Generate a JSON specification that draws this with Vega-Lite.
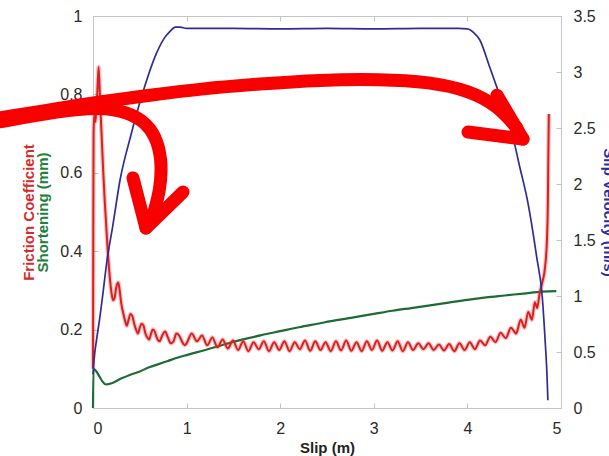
{
  "$schema": "https://vega.github.io/schema/vega-lite/v6.json",
  "width": 468,
  "height": 392,
  "autosize": {"type": "none"},
  "padding": {"left": 93, "top": 16, "right": 48, "bottom": 48},
  "background": "white",
  "config": {
    "view": {"stroke": "#c4c4c4", "strokeWidth": 1},
    "axis": {
      "labelFont": "Liberation Sans",
      "labelFontSize": 16,
      "labelColor": "#2a2a2a",
      "titleFont": "Liberation Sans",
      "titleFontSize": 15,
      "titleFontWeight": "bold",
      "domainColor": "#c4c4c4",
      "tickColor": "#c4c4c4",
      "tickSize": -5,
      "grid": false
    }
  },
  "datasets": {
    "shortening": [
      {"slip": 0, "shortening": 0}, {"slip": 0.005, "shortening": 0.1}, {"slip": 0.03, "shortening": 0.095},
      {"slip": 0.07, "shortening": 0.08}, {"slip": 0.1, "shortening": 0.068}, {"slip": 0.14, "shortening": 0.06},
      {"slip": 0.2, "shortening": 0.063}, {"slip": 0.3, "shortening": 0.075}, {"slip": 0.4, "shortening": 0.085},
      {"slip": 0.5, "shortening": 0.093}, {"slip": 0.6, "shortening": 0.104}, {"slip": 0.7, "shortening": 0.112},
      {"slip": 0.8, "shortening": 0.12}, {"slip": 0.9, "shortening": 0.128}, {"slip": 1.0, "shortening": 0.135},
      {"slip": 1.2, "shortening": 0.148}, {"slip": 1.4, "shortening": 0.162}, {"slip": 1.6, "shortening": 0.175},
      {"slip": 1.8, "shortening": 0.186}, {"slip": 2.0, "shortening": 0.196}, {"slip": 2.2, "shortening": 0.206},
      {"slip": 2.4, "shortening": 0.215}, {"slip": 2.6, "shortening": 0.224}, {"slip": 2.8, "shortening": 0.232},
      {"slip": 3.0, "shortening": 0.24}, {"slip": 3.2, "shortening": 0.248}, {"slip": 3.4, "shortening": 0.255},
      {"slip": 3.6, "shortening": 0.262}, {"slip": 3.8, "shortening": 0.269}, {"slip": 4.0, "shortening": 0.276},
      {"slip": 4.2, "shortening": 0.282}, {"slip": 4.4, "shortening": 0.287}, {"slip": 4.6, "shortening": 0.292},
      {"slip": 4.8, "shortening": 0.297}, {"slip": 4.95, "shortening": 0.298}
    ],
    "friction": [
      {"slip": 0, "mu": 0.10}, {"slip": 0.003, "mu": 0.45}, {"slip": 0.006, "mu": 0.70}, {"slip": 0.015, "mu": 0.75},
      {"slip": 0.025, "mu": 0.73}, {"slip": 0.035, "mu": 0.76}, {"slip": 0.045, "mu": 0.80}, {"slip": 0.06, "mu": 0.87},
      {"slip": 0.07, "mu": 0.82}, {"slip": 0.08, "mu": 0.76}, {"slip": 0.095, "mu": 0.68}, {"slip": 0.11, "mu": 0.60},
      {"slip": 0.125, "mu": 0.53}, {"slip": 0.14, "mu": 0.47}, {"slip": 0.155, "mu": 0.41}, {"slip": 0.17, "mu": 0.36},
      {"slip": 0.185, "mu": 0.32}, {"slip": 0.2, "mu": 0.29}, {"slip": 0.215, "mu": 0.275}, {"slip": 0.23, "mu": 0.28},
      {"slip": 0.25, "mu": 0.31}, {"slip": 0.27, "mu": 0.32}, {"slip": 0.285, "mu": 0.30}, {"slip": 0.3, "mu": 0.27},
      {"slip": 0.32, "mu": 0.245}, {"slip": 0.34, "mu": 0.225}, {"slip": 0.36, "mu": 0.21}, {"slip": 0.38, "mu": 0.225},
      {"slip": 0.40, "mu": 0.24}, {"slip": 0.42, "mu": 0.235}, {"slip": 0.44, "mu": 0.215}, {"slip": 0.46, "mu": 0.20},
      {"slip": 0.48, "mu": 0.19}, {"slip": 0.50, "mu": 0.205}, {"slip": 0.52, "mu": 0.215}, {"slip": 0.54, "mu": 0.21},
      {"slip": 0.56, "mu": 0.19}, {"slip": 0.58, "mu": 0.18}, {"slip": 0.60, "mu": 0.175}, {"slip": 0.62, "mu": 0.19},
      {"slip": 0.64, "mu": 0.20}, {"slip": 0.66, "mu": 0.195}, {"slip": 0.68, "mu": 0.18}, {"slip": 0.71, "mu": 0.17},
      {"slip": 0.74, "mu": 0.185}, {"slip": 0.77, "mu": 0.195}, {"slip": 0.80, "mu": 0.18}, {"slip": 0.83, "mu": 0.165},
      {"slip": 0.86, "mu": 0.17}, {"slip": 0.89, "mu": 0.19}, {"slip": 0.92, "mu": 0.185}, {"slip": 0.95, "mu": 0.17},
      {"slip": 0.98, "mu": 0.16}, {"slip": 1.0, "mu": 0.165}, {"slip": 1.055, "mu": 0.19}, {"slip": 1.11, "mu": 0.17},
      {"slip": 1.165, "mu": 0.185}, {"slip": 1.22, "mu": 0.16}, {"slip": 1.275, "mu": 0.18}, {"slip": 1.33, "mu": 0.155},
      {"slip": 1.385, "mu": 0.175}, {"slip": 1.44, "mu": 0.152}, {"slip": 1.495, "mu": 0.172}, {"slip": 1.55, "mu": 0.148},
      {"slip": 1.605, "mu": 0.17}, {"slip": 1.66, "mu": 0.145}, {"slip": 1.715, "mu": 0.168}, {"slip": 1.77, "mu": 0.15},
      {"slip": 1.825, "mu": 0.17}, {"slip": 1.88, "mu": 0.145}, {"slip": 1.935, "mu": 0.168}, {"slip": 1.99, "mu": 0.148},
      {"slip": 2.045, "mu": 0.17}, {"slip": 2.10, "mu": 0.145}, {"slip": 2.155, "mu": 0.168}, {"slip": 2.21, "mu": 0.15},
      {"slip": 2.265, "mu": 0.172}, {"slip": 2.32, "mu": 0.146}, {"slip": 2.375, "mu": 0.17}, {"slip": 2.43, "mu": 0.148},
      {"slip": 2.485, "mu": 0.168}, {"slip": 2.54, "mu": 0.145}, {"slip": 2.595, "mu": 0.17}, {"slip": 2.65, "mu": 0.147},
      {"slip": 2.705, "mu": 0.172}, {"slip": 2.76, "mu": 0.146}, {"slip": 2.815, "mu": 0.168}, {"slip": 2.87, "mu": 0.145},
      {"slip": 2.925, "mu": 0.17}, {"slip": 2.98, "mu": 0.148}, {"slip": 3.035, "mu": 0.172}, {"slip": 3.09, "mu": 0.146},
      {"slip": 3.145, "mu": 0.168}, {"slip": 3.20, "mu": 0.147}, {"slip": 3.255, "mu": 0.17}, {"slip": 3.31, "mu": 0.145},
      {"slip": 3.365, "mu": 0.168}, {"slip": 3.42, "mu": 0.148}, {"slip": 3.475, "mu": 0.165}, {"slip": 3.53, "mu": 0.15},
      {"slip": 3.585, "mu": 0.165}, {"slip": 3.64, "mu": 0.148}, {"slip": 3.695, "mu": 0.162}, {"slip": 3.75, "mu": 0.147},
      {"slip": 3.805, "mu": 0.163}, {"slip": 3.86, "mu": 0.145}, {"slip": 3.915, "mu": 0.165}, {"slip": 3.97, "mu": 0.148},
      {"slip": 4.025, "mu": 0.168}, {"slip": 4.08, "mu": 0.15}, {"slip": 4.135, "mu": 0.172}, {"slip": 4.19, "mu": 0.16},
      {"slip": 4.245, "mu": 0.182}, {"slip": 4.30, "mu": 0.168}, {"slip": 4.355, "mu": 0.192}, {"slip": 4.41, "mu": 0.178},
      {"slip": 4.465, "mu": 0.205}, {"slip": 4.52, "mu": 0.19}, {"slip": 4.57, "mu": 0.225}, {"slip": 4.61, "mu": 0.205},
      {"slip": 4.65, "mu": 0.245}, {"slip": 4.69, "mu": 0.225}, {"slip": 4.72, "mu": 0.27}, {"slip": 4.745, "mu": 0.255},
      {"slip": 4.77, "mu": 0.29}, {"slip": 4.80, "mu": 0.32}, {"slip": 4.83, "mu": 0.36}, {"slip": 4.85, "mu": 0.43},
      {"slip": 4.86, "mu": 0.53}, {"slip": 4.865, "mu": 0.65}, {"slip": 4.87, "mu": 0.75}
    ],
    "velocity": [
      {"slip": 0, "v": 0.3}, {"slip": 0.01, "v": 0.42}, {"slip": 0.04, "v": 0.62}, {"slip": 0.075, "v": 0.82},
      {"slip": 0.11, "v": 1.05}, {"slip": 0.15, "v": 1.32}, {"slip": 0.21, "v": 1.62}, {"slip": 0.29, "v": 2.04},
      {"slip": 0.40, "v": 2.42}, {"slip": 0.53, "v": 2.81}, {"slip": 0.68, "v": 3.17}, {"slip": 0.76, "v": 3.30},
      {"slip": 0.82, "v": 3.36}, {"slip": 0.88, "v": 3.40}, {"slip": 0.93, "v": 3.40}, {"slip": 1.0, "v": 3.39},
      {"slip": 1.5, "v": 3.39}, {"slip": 2.0, "v": 3.385}, {"slip": 2.5, "v": 3.39}, {"slip": 3.0, "v": 3.385},
      {"slip": 3.5, "v": 3.39}, {"slip": 3.9, "v": 3.39}, {"slip": 4.0, "v": 3.385}, {"slip": 4.07, "v": 3.35},
      {"slip": 4.13, "v": 3.29}, {"slip": 4.24, "v": 3.04}, {"slip": 4.35, "v": 2.78}, {"slip": 4.46, "v": 2.51},
      {"slip": 4.56, "v": 2.15}, {"slip": 4.64, "v": 1.86}, {"slip": 4.74, "v": 1.35}, {"slip": 4.80, "v": 0.99},
      {"slip": 4.83, "v": 0.61}, {"slip": 4.85, "v": 0.3}, {"slip": 4.86, "v": 0.07}
    ],
    "arrows": [
      {"path": "A", "i": 0, "slip": -0.994, "y": 0.740}, {"path": "A", "i": 1, "slip": -0.353, "y": 0.765},
      {"path": "A", "i": 2, "slip": 0.075, "y": 0.781}, {"path": "A", "i": 3, "slip": 0.609, "y": 0.798},
      {"path": "A", "i": 4, "slip": 1.143, "y": 0.814}, {"path": "A", "i": 5, "slip": 1.784, "y": 0.827},
      {"path": "A", "i": 6, "slip": 2.425, "y": 0.837}, {"path": "A", "i": 7, "slip": 3.066, "y": 0.839},
      {"path": "A", "i": 8, "slip": 3.6, "y": 0.832}, {"path": "A", "i": 9, "slip": 4.028, "y": 0.809},
      {"path": "A", "i": 10, "slip": 4.327, "y": 0.770}, {"path": "A", "i": 11, "slip": 4.53, "y": 0.714},
      {"path": "A1", "i": 0, "slip": 4.316, "y": 0.798}, {"path": "A1", "i": 1, "slip": 4.594, "y": 0.686},
      {"path": "A2", "i": 0, "slip": 4.006, "y": 0.704}, {"path": "A2", "i": 1, "slip": 4.594, "y": 0.686},
      {"path": "B", "i": 0, "slip": -0.994, "y": 0.730}, {"path": "B", "i": 1, "slip": -0.353, "y": 0.758},
      {"path": "B", "i": 2, "slip": 0.075, "y": 0.768}, {"path": "B", "i": 3, "slip": 0.374, "y": 0.755},
      {"path": "B", "i": 4, "slip": 0.588, "y": 0.724}, {"path": "B", "i": 5, "slip": 0.694, "y": 0.679},
      {"path": "B", "i": 6, "slip": 0.737, "y": 0.620}, {"path": "B", "i": 7, "slip": 0.716, "y": 0.556},
      {"path": "B", "i": 8, "slip": 0.652, "y": 0.500},
      {"path": "B1", "i": 0, "slip": 0.427, "y": 0.587}, {"path": "B1", "i": 1, "slip": 0.566, "y": 0.459},
      {"path": "B2", "i": 0, "slip": 0.962, "y": 0.551}, {"path": "B2", "i": 1, "slip": 0.566, "y": 0.459}
    ]
  },
  "layer": [
    {
      "data": {"name": "shortening"},
      "mark": {"type": "line", "color": "#1f6b35", "strokeWidth": 2.2, "interpolate": "monotone"},
      "encoding": {
        "x": {"field": "slip", "type": "quantitative", "scale": {"domain": [0, 5]},
          "axis": {"orient": "top", "labels": false, "title": null, "values": [0, 1, 2, 3, 4, 5]}},
        "y": {"field": "shortening", "type": "quantitative", "scale": {"domain": [0, 1]},
          "axis": {"orient": "left", "labels": false, "domain": false, "values": [0, 0.2, 0.4, 0.6, 0.8, 1],
            "title": "Shortening (mm)", "titleColor": "#23803a", "titleX": -46, "titleY": 196,
            "titleAngle": -90, "titleAlign": "center", "titleBaseline": "alphabetic"}}
      }
    },
    {
      "data": {"name": "friction"},
      "mark": {"type": "line", "color": "#e04040", "strokeWidth": 4.5, "opacity": 0.3, "interpolate": "monotone"},
      "encoding": {
        "x": {"field": "slip", "type": "quantitative", "scale": {"domain": [0, 5]},
          "axis": {"orient": "bottom", "labels": false, "domain": false, "title": null, "values": [0, 1, 2, 3, 4, 5]}},
        "y": {"field": "mu", "type": "quantitative", "scale": {"domain": [0, 1]}, "axis": null}
      }
    },
    {
      "data": {"name": "friction"},
      "mark": {"type": "line", "color": "#d92020", "strokeWidth": 2, "interpolate": "monotone"},
      "encoding": {
        "x": {"field": "slip", "type": "quantitative", "scale": {"domain": [0, 5]},
          "axis": {"orient": "bottom", "ticks": false, "values": [0, 1, 2, 3, 4, 5], "format": "d", "labelPadding": 12,
            "title": "Slip (m)", "titleColor": "#222", "titleY": 44, "titleX": 234, "titleAlign": "center", "titleBaseline": "alphabetic"}},
        "y": {"field": "mu", "type": "quantitative", "scale": {"domain": [0, 1]},
          "axis": {"orient": "left", "ticks": false, "values": [0, 0.2, 0.4, 0.6, 0.8, 1], "format": "~g", "labelPadding": 11,
            "title": "Friction Coefficient", "titleColor": "#d42a2a", "titleX": -60, "titleY": 196,
            "titleAngle": -90, "titleAlign": "center", "titleBaseline": "alphabetic"}}
      }
    },
    {
      "data": {"name": "velocity"},
      "mark": {"type": "line", "color": "#2d2d96", "strokeWidth": 1.7, "interpolate": "monotone"},
      "encoding": {
        "x": {"field": "slip", "type": "quantitative", "scale": {"domain": [0, 5]}, "axis": null},
        "y": {"field": "v", "type": "quantitative", "scale": {"domain": [0, 3.5]},
          "axis": {"orient": "right", "values": [0, 0.5, 1, 1.5, 2, 2.5, 3, 3.5], "format": "~g", "labelPadding": 12,
            "ticks": false,
            "title": "Slip Velocity (m/s)", "titleColor": "#2d2d9e", "titleX": 42, "titleY": 196,
            "titleAngle": 90, "titleAlign": "center", "titleBaseline": "alphabetic"}}
      }
    },
    {
      "data": {"name": "arrows"},
      "mark": {"type": "line", "color": "#f80000", "strokeWidth": 13, "strokeCap": "round", "strokeJoin": "round", "interpolate": "basis"},
      "encoding": {
        "x": {"field": "slip", "type": "quantitative", "scale": {"domain": [0, 5]}, "axis": null},
        "y": {"field": "y", "type": "quantitative", "scale": {"domain": [0, 1]},
          "axis": {"orient": "right", "labels": false, "domain": false, "title": null,
            "values": [0.142857, 0.285714, 0.428571, 0.571429, 0.714286, 0.857143]}},
        "detail": {"field": "path", "type": "nominal"},
        "order": {"field": "i", "type": "quantitative"}
      }
    }
  ],
  "resolve": {"scale": {"y": "independent"}, "axis": {"x": "independent", "y": "independent"}}
}
